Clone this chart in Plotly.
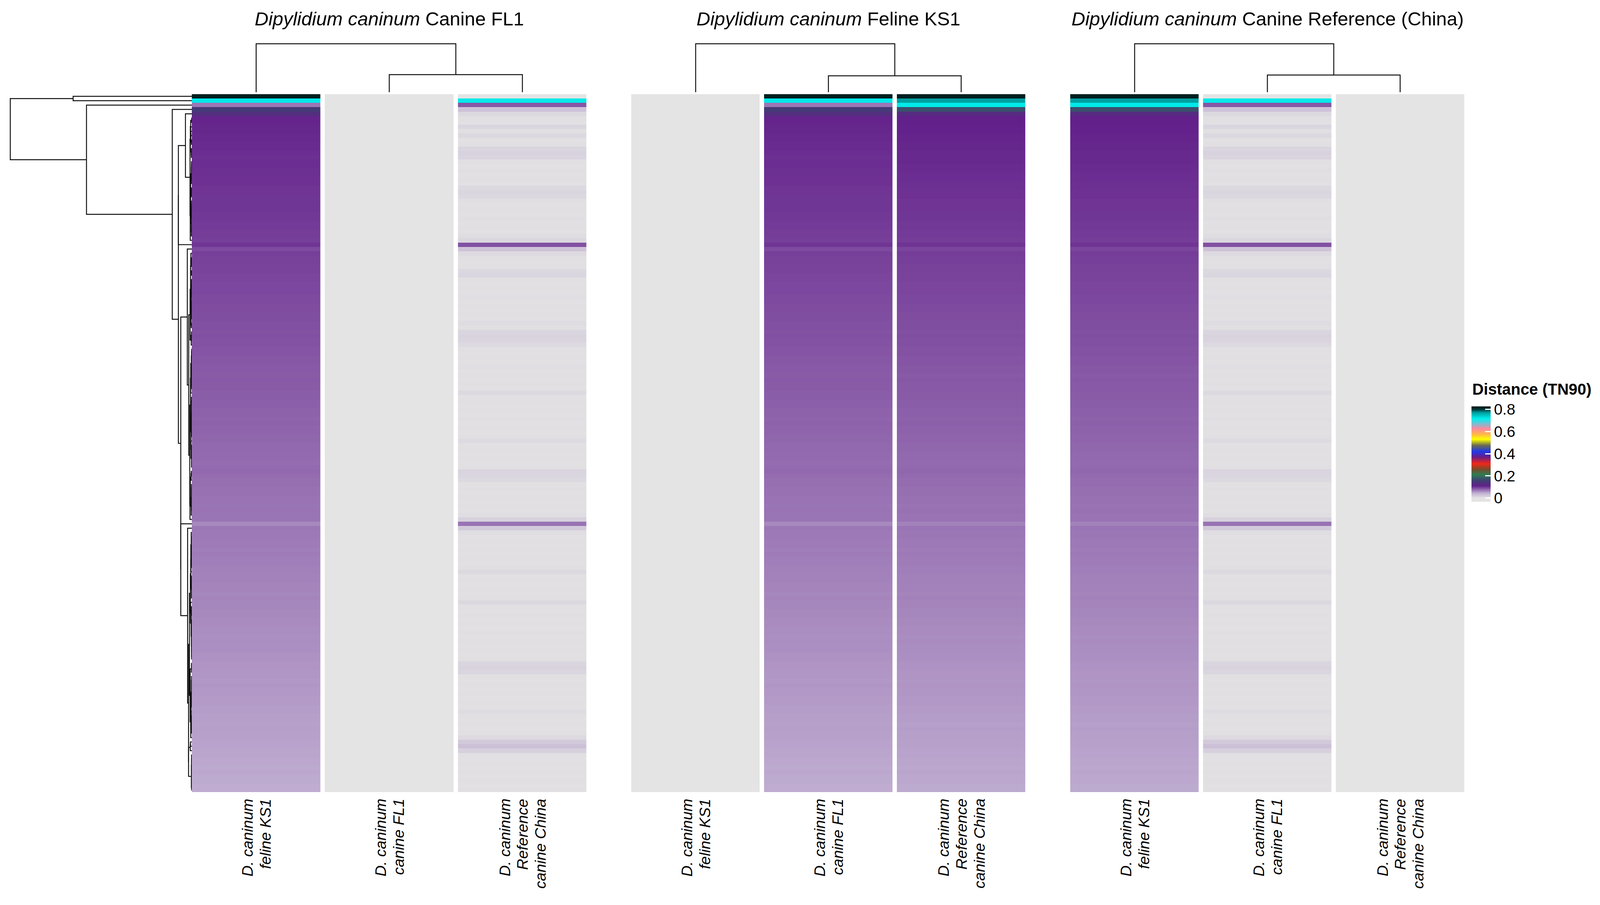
import numpy as np
import plotly.graph_objects as go

# Reference picture size (positions are given as fractions of it)
W, H = 4363, 2316
# the page is photographed at ~1.0645 device pixels per CSS pixel
S = 1 / 1.0645
FONT = "Liberation Sans, Arial, Helvetica, sans-serif"

# ---------------- data ----------------
panel_titles = [
    "<i>Dipylidium caninum</i> Canine FL1",
    "<i>Dipylidium caninum</i> Feline KS1",
    "<i>Dipylidium caninum</i> Canine Reference (China)",
]
col_labels = [
    ["D. caninum", "feline KS1"],
    ["D. caninum", "canine FL1"],
    ["D. caninum", "Reference", "canine China"],
]

# per-row TN90 distance, FL1 vs KS1
d_fl1_ks1 = [
    0.820, 0.720, 0.070, 0.150, 0.132,
    0.108, 0.108, 0.107, 0.107, 0.106, 0.106, 0.105, 0.105, 0.104, 0.103,
    0.104, 0.104, 0.103, 0.103, 0.102, 0.102, 0.101, 0.101, 0.100, 0.100,
    0.100, 0.100, 0.099, 0.099, 0.098, 0.098, 0.097, 0.097, 0.096, 0.100,
    0.091, 0.096, 0.095, 0.095, 0.094, 0.094, 0.093, 0.093, 0.092, 0.092,
    0.092, 0.091, 0.091, 0.090, 0.090, 0.089, 0.089, 0.088, 0.088, 0.087,
    0.088, 0.087, 0.087, 0.086, 0.086, 0.085, 0.085, 0.084, 0.084, 0.083,
    0.084, 0.083, 0.083, 0.082, 0.082, 0.081, 0.081, 0.080, 0.080, 0.079,
    0.080, 0.079, 0.079, 0.078, 0.078, 0.077, 0.077, 0.076, 0.076, 0.075,
    0.076, 0.077, 0.075, 0.074, 0.074, 0.073, 0.073, 0.072, 0.072, 0.071,
    0.072, 0.071, 0.071, 0.062, 0.070, 0.069, 0.069, 0.068, 0.068, 0.067,
    0.068, 0.067, 0.067, 0.066, 0.066, 0.065, 0.065, 0.064, 0.064, 0.063,
    0.064, 0.063, 0.063, 0.062, 0.062, 0.061, 0.061, 0.060, 0.060, 0.059,
    0.060, 0.059, 0.059, 0.058, 0.058, 0.057, 0.057, 0.056, 0.056, 0.055,
    0.056, 0.055, 0.055, 0.054, 0.054, 0.053, 0.053, 0.052, 0.052, 0.051,
    0.052, 0.051, 0.051, 0.050, 0.050, 0.049, 0.049, 0.048, 0.048, 0.047,
    0.048, 0.047, 0.047, 0.046, 0.046,
]
# per-row TN90 distance, KS1 vs China reference
d_ks1_china = [
    0.820, 0.770, 0.720, 0.170, 0.128,
    0.110, 0.110, 0.109, 0.109, 0.108, 0.108, 0.107, 0.107, 0.106, 0.106,
    0.106, 0.105, 0.105, 0.104, 0.104, 0.103, 0.103, 0.102, 0.102, 0.101,
    0.101, 0.101, 0.100, 0.100, 0.099, 0.099, 0.098, 0.098, 0.097, 0.101,
    0.093, 0.097, 0.096, 0.096, 0.095, 0.095, 0.094, 0.094, 0.093, 0.093,
    0.093, 0.092, 0.092, 0.091, 0.091, 0.090, 0.090, 0.089, 0.089, 0.088,
    0.089, 0.088, 0.088, 0.087, 0.087, 0.086, 0.086, 0.085, 0.085, 0.084,
    0.085, 0.084, 0.084, 0.083, 0.083, 0.082, 0.082, 0.081, 0.081, 0.080,
    0.081, 0.080, 0.080, 0.079, 0.079, 0.078, 0.078, 0.077, 0.077, 0.076,
    0.077, 0.078, 0.076, 0.075, 0.075, 0.074, 0.074, 0.073, 0.073, 0.072,
    0.073, 0.072, 0.072, 0.065, 0.071, 0.070, 0.070, 0.069, 0.069, 0.068,
    0.069, 0.068, 0.068, 0.067, 0.067, 0.066, 0.066, 0.065, 0.065, 0.064,
    0.065, 0.064, 0.064, 0.063, 0.063, 0.062, 0.062, 0.061, 0.061, 0.060,
    0.061, 0.060, 0.060, 0.059, 0.059, 0.058, 0.058, 0.057, 0.057, 0.056,
    0.057, 0.056, 0.056, 0.055, 0.055, 0.054, 0.054, 0.053, 0.053, 0.052,
    0.053, 0.052, 0.052, 0.051, 0.051, 0.050, 0.050, 0.049, 0.049, 0.048,
    0.049, 0.048, 0.048, 0.047, 0.047,
]
# per-row TN90 distance, FL1 vs China reference
d_fl1_china = [
    0.000, 0.720, 0.085, 0.028, 0.010,
    0.004, 0.003, 0.012, 0.004, 0.010, 0.003, 0.004, 0.012, 0.015, 0.013,
    0.004, 0.003, 0.005, 0.003, 0.004, 0.003, 0.009, 0.012, 0.010, 0.004,
    0.003, 0.004, 0.003, 0.005, 0.003, 0.004, 0.003, 0.006, 0.011, 0.088,
    0.028, 0.009, 0.004, 0.003, 0.004, 0.010, 0.012, 0.004, 0.003, 0.004,
    0.003, 0.005, 0.003, 0.004, 0.003, 0.004, 0.003, 0.007, 0.004, 0.012,
    0.014, 0.013, 0.009, 0.004, 0.003, 0.004, 0.003, 0.005, 0.003, 0.004,
    0.003, 0.004, 0.003, 0.009, 0.003, 0.004, 0.003, 0.004, 0.003, 0.005,
    0.003, 0.004, 0.003, 0.004, 0.008, 0.003, 0.004, 0.003, 0.004, 0.003,
    0.004, 0.013, 0.012, 0.009, 0.003, 0.004, 0.003, 0.004, 0.003, 0.004,
    0.003, 0.006, 0.016, 0.072, 0.022, 0.006, 0.003, 0.004, 0.003, 0.004,
    0.003, 0.004, 0.003, 0.004, 0.009, 0.003, 0.004, 0.003, 0.004, 0.003,
    0.004, 0.010, 0.004, 0.003, 0.004, 0.003, 0.004, 0.003, 0.004, 0.003,
    0.004, 0.003, 0.004, 0.003, 0.004, 0.012, 0.014, 0.012, 0.004, 0.003,
    0.004, 0.003, 0.004, 0.003, 0.004, 0.003, 0.007, 0.004, 0.003, 0.004,
    0.003, 0.004, 0.009, 0.022, 0.030, 0.017, 0.004, 0.003, 0.004, 0.003,
    0.004, 0.003, 0.004, 0.003, 0.004,
]
N = len(d_fl1_ks1)
d_self = [0.0 for _ in range(N)]   # a genome against itself

panels = [
    [d_fl1_ks1, d_self, d_fl1_china],
    [d_self, d_fl1_ks1, d_ks1_china],
    [d_ks1_china, d_fl1_china, d_self],
]
# column dendrogram merge heights (lower merge of cols 2+3, top merge), relative
col_tree_heights = [(0.363, 1.0), (0.339, 1.0), (0.355, 1.0)]

cs_values = [-0.033, 0.0, 0.045, 0.11, 0.16, 0.21, 0.26, 0.31, 0.37, 0.42,
             0.475, 0.53, 0.575, 0.625, 0.665, 0.715, 0.77, 0.80, 0.827]
cs_colors = ["#e4e4e4", "#e4e4e4", "#c0aed1", "#62208a", "#3e4272", "#2e7c52",
             "#7a4a2a", "#f02818", "#6a1c84", "#2038e8", "#6a6a50", "#ffff00",
             "#ffb848", "#ff88a0", "#88b8cc", "#00f0f0", "#00a0a0", "#003434",
             "#001818"]
zmin, zmax = cs_values[0], cs_values[-1]
colorscale = [[(v - zmin) / (zmax - zmin), c] for v, c in zip(cs_values, cs_colors)]

# ---------------- layout helpers ----------------
def fx(p):
    return p / W

def fy(p):
    return 1 - p / H

GAP = 12
panel_px = [(523, 1600), (1722, 2796), (2919, 3993)]
hm_top, hm_bot = 241, 2027
LW = 2.6 * S

fig = go.Figure()

# heatmaps
for p, cols in enumerate(panels):
    z = np.array(cols).T
    fig.add_trace(go.Heatmap(
        z=z, x=[0, 1, 2], y=list(range(N)),
        xaxis="x" if p == 0 else f"x{p+1}", yaxis="y",
        colorscale=colorscale, zmin=zmin, zmax=zmax, xgap=GAP * S,
        hoverinfo="skip", showscale=(p == 2),
        colorbar=dict(
            x=fx(4013), xanchor="left", y=fy(1162), yanchor="middle",
            len=260 * S, lenmode="pixels", thickness=52 * S, thicknessmode="pixels",
            outlinewidth=0, xpad=0, ypad=0,
            tickmode="array", tickvals=[0, 0.2, 0.4, 0.6, 0.8],
            ticktext=["0", "0.2", "0.4", "0.6", "0.8"],
            ticks="inside", ticklen=14 * S, tickwidth=3 * S, tickcolor="white",
            tickfont=dict(size=42 * S, family=FONT, color="black"),
        ),
    ))

# row dendrogram: contiguous (order-preserving) average-linkage on the 9 columns
M = np.array([c for cols in panels for c in cols]).T
D = np.sqrt(((M[:, None, :] - M[None, :, :]) ** 2).sum(-1))
clusters = [([i], float(i), 0.0) for i in range(N)]
rx, ry = [], []
while len(clusters) > 1:
    dists = [D[np.ix_(clusters[k][0], clusters[k + 1][0])].mean()
             for k in range(len(clusters) - 1)]
    k = int(np.argmin(dists))
    (ma, ya, ha), (mb, yb, hb) = clusters[k], clusters[k + 1]
    h = max(dists[k], ha, hb)
    rx += [ha, h, h, hb, None]
    ry += [ya, ya, yb, yb, None]
    clusters[k:k + 2] = [(ma + mb, (ya + yb) / 2, h)]
root_h = clusters[0][2]

fig.add_trace(go.Scatter(x=rx, y=ry, mode="lines", xaxis="x4", yaxis="y",
                         line=dict(color="#111111", width=LW),
                         hoverinfo="skip", showlegend=False))

# column dendrograms
for p, (hl, ht) in enumerate(col_tree_heights):
    xs = [1, 1, 2, 2, None, 0, 0, 1.5, 1.5]
    ys = [0, hl, hl, 0, None, 0, ht, ht, hl]
    fig.add_trace(go.Scatter(x=xs, y=ys, mode="lines",
                             xaxis="x" if p == 0 else f"x{p+1}", yaxis="y2",
                             line=dict(color="#111111", width=LW),
                             hoverinfo="skip", showlegend=False))

layout = dict(
    autosize=True, margin=dict(l=0, r=0, t=0, b=0, pad=0),
    paper_bgcolor="white", plot_bgcolor="white", showlegend=False,
    font=dict(family=FONT, color="black"),
)
for p, (a, b) in enumerate(panel_px):
    key = "xaxis" if p == 0 else f"xaxis{p+1}"
    layout[key] = dict(domain=[fx(a - GAP / 2), fx(b + GAP / 2)], range=[-0.5, 2.5],
                       visible=False, fixedrange=True, anchor="y")
# row dendrogram axis
dl, dr = 20, 523
layout["xaxis4"] = dict(domain=[fx(dl), fx(dr)],
                        range=[root_h * (dr - dl) / (dr - 28), 0],
                        visible=False, anchor="y")
layout["yaxis"] = dict(domain=[fy(hm_bot), fy(hm_top)], range=[N - 0.5, -0.5],
                       visible=False, anchor="x")
# column dendrogram axis: leaves at 236px, top merge at 112px
layout["yaxis2"] = dict(domain=[fy(236 + 0.02 * 124), fy(112 - 0.02 * 124)],
                        range=[-0.02, 1.02], visible=False, anchor="x")

annotations = []
LINE = 49 * S
for p, (a, b) in enumerate(panel_px):
    annotations.append(dict(text=panel_titles[p], x=fx((a + b) / 2), y=fy(48),
                            xref="paper", yref="paper", xanchor="center", yanchor="middle",
                            showarrow=False, font=dict(size=52 * S, family=FONT)))
    for c in range(3):
        lines = col_labels[c]
        for li, line in enumerate(lines):
            annotations.append(dict(text=f"<i>{line}</i>", x=c, y=fy(2042),
                                    xref="x" if p == 0 else f"x{p+1}", yref="paper",
                                    xanchor="center", yanchor="top", textangle=-90,
                                    xshift=(li - (len(lines) - 1) / 2) * LINE,
                                    showarrow=False,
                                    font=dict(size=42 * S, family=FONT)))
annotations.append(dict(text="<b>Distance (TN90)</b>", x=fx(4013), y=fy(996),
                        xref="paper", yref="paper", xanchor="left", yanchor="middle",
                        showarrow=False, font=dict(size=43 * S, family=FONT)))
layout["annotations"] = annotations
fig.update_layout(**layout)

post = ("document.documentElement.style.margin='0';document.body.style.margin='0';"
        "document.documentElement.style.overflow='hidden';document.body.style.overflow='hidden';")
fig.write_html("out.html", default_width="100vw", default_height="100vh",
               post_script=post, config={"displayModeBar": False})
